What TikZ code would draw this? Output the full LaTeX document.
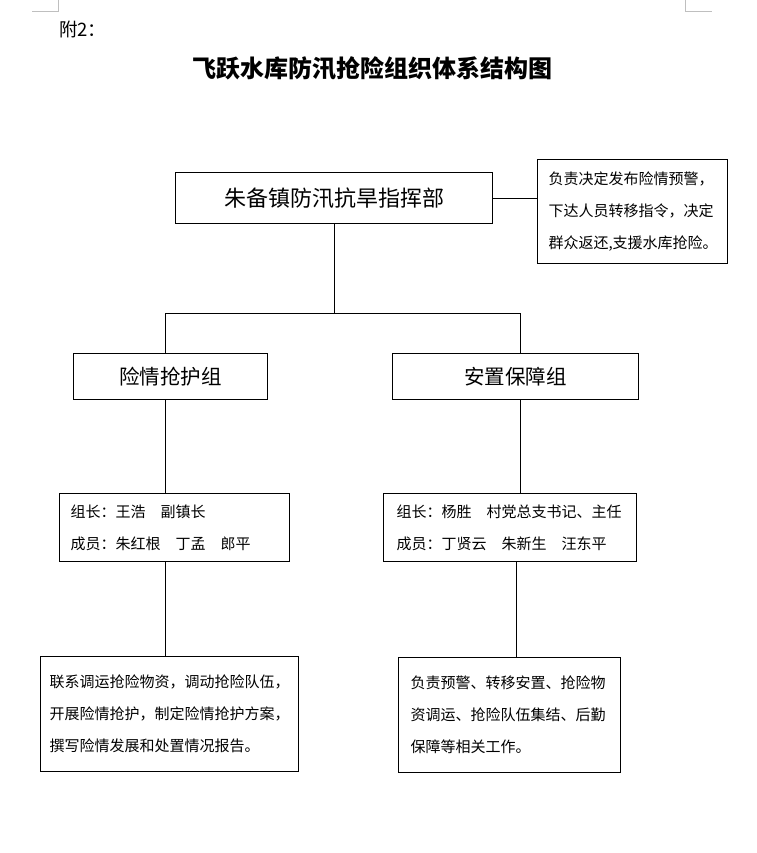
\documentclass[tikz,border=0pt]{standalone}
\usepackage{fontspec}
\setmainfont{Noto Sans CJK SC}
\begin{document}
\begin{tikzpicture}[x=1pt,y=-1pt,
  box/.style={draw=black,line width=1pt,rectangle,inner sep=0pt,anchor=north west},
  txtbox/.style={box,font=\fontsize{15}{32}\selectfont,align=left},
  line/.style={draw=black,line width=1pt},
  cornermark/.style={draw=black!25,line width=1pt}]
\useasboundingbox (0,0) rectangle (756,853);
% corner marks
\draw[cornermark] (58,0) -- (58,12) -- (32,12);
\draw[cornermark] (685,0) -- (685,12) -- (712,12);
% header
\node[anchor=west,inner sep=0pt,font=\fontsize{18.5}{20}\selectfont] (fu) at (59,29) {附2：};
\node[font=\fontsize{24}{28}\selectfont\bfseries] (title) at (372,68) {飞跃水库防汛抢险组织体系结构图};
% main box
\node[box,minimum width=317pt,minimum height=51pt,font=\fontsize{22}{24}\selectfont] (main) at (175,172) {朱备镇防汛抗旱指挥部};
\node[txtbox,text width=168pt,inner xsep=11pt,minimum height=104pt] (side) at (537,159)
  {负责决定发布险情预警，\\下达人员转移指令，决定\\群众返还,支援水库抢险。};
% group boxes
\node[box,minimum width=194pt,minimum height=46pt,font=\fontsize{20.5}{22}\selectfont] (g1) at (73,353) {险情抢护组};
\node[box,minimum width=246pt,minimum height=46pt,font=\fontsize{20.5}{22}\selectfont] (g2) at (392,353) {安置保障组};
% member boxes
\node[txtbox,text width=208pt,inner xsep=11pt,minimum height=68pt] (m1) at (59,493)
  {组长：王浩　副镇长\\成员：朱红根　丁孟　郎平};
\node[txtbox,text width=227pt,inner xsep=13pt,minimum height=68pt] (m2) at (383,493)
  {组长：杨胜　村党总支书记、主任\\成员：丁贤云　朱新生　汪东平};
% task boxes
\node[txtbox,text width=240pt,inner xsep=9pt,minimum height=115pt] (t1) at (40,656)
  {联系调运抢险物资，调动抢险队伍，\\开展险情抢护，制定险情抢护方案，\\撰写险情发展和处置情况报告。};
\node[txtbox,text width=198pt,inner xsep=12pt,minimum height=115pt] (t2) at (398,657)
  {负责预警、转移安置、抢险物\\资调运、抢险队伍集结、后勤\\保障等相关工作。};
% connectors
\coordinate (jL) at (165,313);
\coordinate (jR) at (520,313);
\coordinate (kR) at (516,600);
\coordinate (jM) at (main.south |- jL);
\draw[line] (main.east) -- (main.east -| side.west);
\draw[line] (main.south) -- (jM);
\draw[line] (jL) -- (jR);
\draw[line] (jL) -- (jL |- g1.north);
\draw[line] (jR) -- (jR |- g2.north);
\draw[line] (jL |- g1.south) -- (jL |- m1.north);
\draw[line] (jR |- g2.south) -- (jR |- m2.north);
\draw[line] (jL |- m1.south) -- (jL |- t1.north);
\draw[line] (kR |- m2.south) -- (kR |- t2.north);
\end{tikzpicture}
\end{document}
